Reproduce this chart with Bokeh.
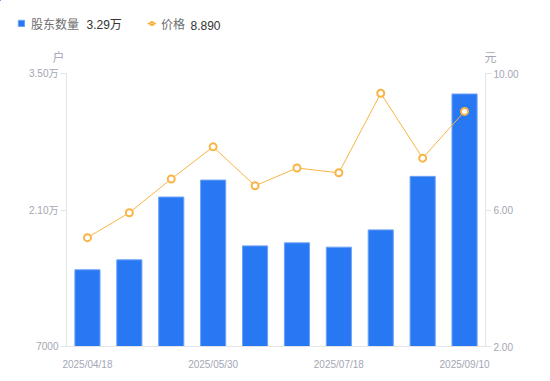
from bokeh.plotting import figure
from bokeh.models import (Range1d, LinearAxis, FixedTicker, Label, Legend, LegendItem,
                          NumeralTickFormatter, ColumnDataSource)
from bokeh.embed import file_html
from bokeh.resources import INLINE

dates = ["2025/04/18", "2025/04/30", "2025/05/20", "2025/05/30", "2025/06/20",
         "2025/06/30", "2025/07/18", "2025/07/31", "2025/08/29", "2025/09/10"]
holders = [14870, 15890, 22330, 24070, 17320, 17630, 17190, 18960, 24450, 32900]
price = [5.19, 5.92, 6.91, 7.85, 6.71, 7.23, 7.09, 9.42, 7.52, 8.89]
shown_ticks = [0, 3, 6, 9]
left_ticks = [7000, 21000, 35000]
right_ticks = [2.0, 6.0, 10.0]
series_names = ["股东数量", "价格"]
units = ["户", "元"]

FONT = "Liberation Sans, Noto Sans CJK SC, sans-serif"
TICK_COLOR = "#a3a6b4"
AXIS_COLOR = "#e3e4e8"
BAR_COLOR = "#2878f3"
BAR_EDGE = "#6fa3f6"
LINE_COLOR = "#f8b444"
LEG_COLOR = "#6e6e6e"
VAL_COLOR = "#333333"

W = 549
HEAD_H = 66
MAIN_H = 314


def wan(v):
    return f"{v/10000:.2f}万" if v >= 10000 else f"{v:d}"


src = ColumnDataSource(dict(idx=list(range(len(dates))), holders=holders, price=price,
                            base=[left_ticks[0]] * len(dates)))

# ---------------- header (legend row + unit labels) ----------------
# its ranges lie away from the data, so its renderers only serve as legend glyphs
hdr = figure(width=W, height=HEAD_H, output_backend="svg", toolbar_location=None,
             x_range=Range1d(len(dates) * 10, len(dates) * 10 + 1), y_range=Range1d(-2, -1),
             x_axis_location=None, y_axis_location=None,
             min_border=0, min_border_left=0, min_border_right=0,
             min_border_top=0, min_border_bottom=0)
hdr.grid.visible = False
hdr.outline_line_color = None

h_bar = hdr.vbar(x="idx", top="holders", width=0.6, source=src,
                 fill_color=BAR_COLOR, line_color=BAR_EDGE)
h_line = hdr.line(x="idx", y="price", source=src, line_color=LINE_COLOR, line_width=1.5)
h_pts = hdr.scatter(x="idx", y="price", source=src, size=7, marker="circle",
                    fill_color="white", line_color=LINE_COLOR, line_width=2)


def make_legend(label, renderers, loc, gw, standoff):
    lg = Legend(items=[LegendItem(label=label, renderers=renderers)], location=loc,
                orientation="horizontal", padding=0, margin=0, spacing=0,
                border_line_alpha=0, background_fill_alpha=0,
                glyph_width=gw, glyph_height=8, label_height=14, label_width=0,
                label_standoff=standoff, label_text_font=FONT,
                label_text_font_size="12px", label_text_color=LEG_COLOR)
    hdr.add_layout(lg)


make_legend(series_names[0], [h_bar], (17, HEAD_H - 31.5), 8, 6)
make_legend(series_names[1], [h_line, h_pts], (147, HEAD_H - 31.5), 9, 5)

for txt, xs in ((wan(holders[-1]), 86), (f"{price[-1]:.3f}", 190)):
    hdr.add_layout(Label(x=xs, y=HEAD_H - 24.5, x_units="screen", y_units="screen",
                         text=txt, text_font=FONT, text_font_size="12px",
                         text_color=VAL_COLOR, text_align="left", text_baseline="middle"))

for txt, xs in ((units[0], 58), (units[1], 490)):
    hdr.add_layout(Label(x=xs, y=HEAD_H - 57, x_units="screen", y_units="screen",
                         text=txt, text_font=FONT, text_font_size="12px",
                         text_color=TICK_COLOR, text_align="center",
                         text_baseline="middle"))

# ---------------- main chart ----------------
p = figure(width=W, height=MAIN_H, output_backend="svg", toolbar_location=None,
           x_range=Range1d(-0.5, len(dates) - 0.5),
           y_range=Range1d(left_ticks[0], left_ticks[-1]),
           min_border_left=66, min_border_right=64, min_border_top=7, min_border_bottom=34)
p.extra_y_ranges = {"price": Range1d(right_ticks[0], right_ticks[-1])}
p.xgrid.visible = False
p.ygrid.visible = False
p.outline_line_color = None

p.vbar(x="idx", top="holders", bottom="base", width=0.6, source=src,
       fill_color=BAR_COLOR, line_color=BAR_EDGE, line_width=1)
p.line(x="idx", y="price", source=src, y_range_name="price",
       line_color=LINE_COLOR, line_width=1)
p.scatter(x="idx", y="price", source=src, y_range_name="price", size=7,
          marker="circle", fill_color="white", line_color=LINE_COLOR, line_width=2)

# x axis
xa = p.xaxis[0]
xa.ticker = FixedTicker(ticks=shown_ticks)
xa.major_label_overrides = {i: dates[i] for i in shown_ticks}
xa.major_tick_line_color = None
xa.minor_tick_line_color = None
xa.axis_line_color = AXIS_COLOR
xa.major_label_text_color = TICK_COLOR
xa.major_label_text_font = FONT
xa.major_label_text_font_size = "10px"
xa.major_label_standoff = 6

# left axis
ya = p.yaxis[0]
ya.ticker = FixedTicker(ticks=left_ticks)
ya.major_label_overrides = {t: wan(t) for t in left_ticks}
ya.minor_tick_line_color = None
ya.major_tick_in = 0
ya.major_tick_out = 6
ya.major_tick_line_color = AXIS_COLOR
ya.axis_line_color = AXIS_COLOR
ya.major_label_text_color = TICK_COLOR
ya.major_label_text_font = FONT
ya.major_label_text_font_size = "10px"
ya.major_label_standoff = 2

# right axis
ra = LinearAxis(y_range_name="price", ticker=FixedTicker(ticks=right_ticks),
                formatter=NumeralTickFormatter(format="0.00"))
ra.minor_tick_line_color = None
ra.major_tick_in = 0
ra.major_tick_out = 6
ra.major_tick_line_color = AXIS_COLOR
ra.axis_line_color = AXIS_COLOR
ra.major_label_text_color = TICK_COLOR
ra.major_label_text_font = FONT
ra.major_label_text_font_size = "10px"
ra.major_label_standoff = 2
p.add_layout(ra, "right")

# two independent roots, stacked by the page flow (no frame alignment between them)
open("out.html", "w").write(file_html([hdr, p], INLINE))
